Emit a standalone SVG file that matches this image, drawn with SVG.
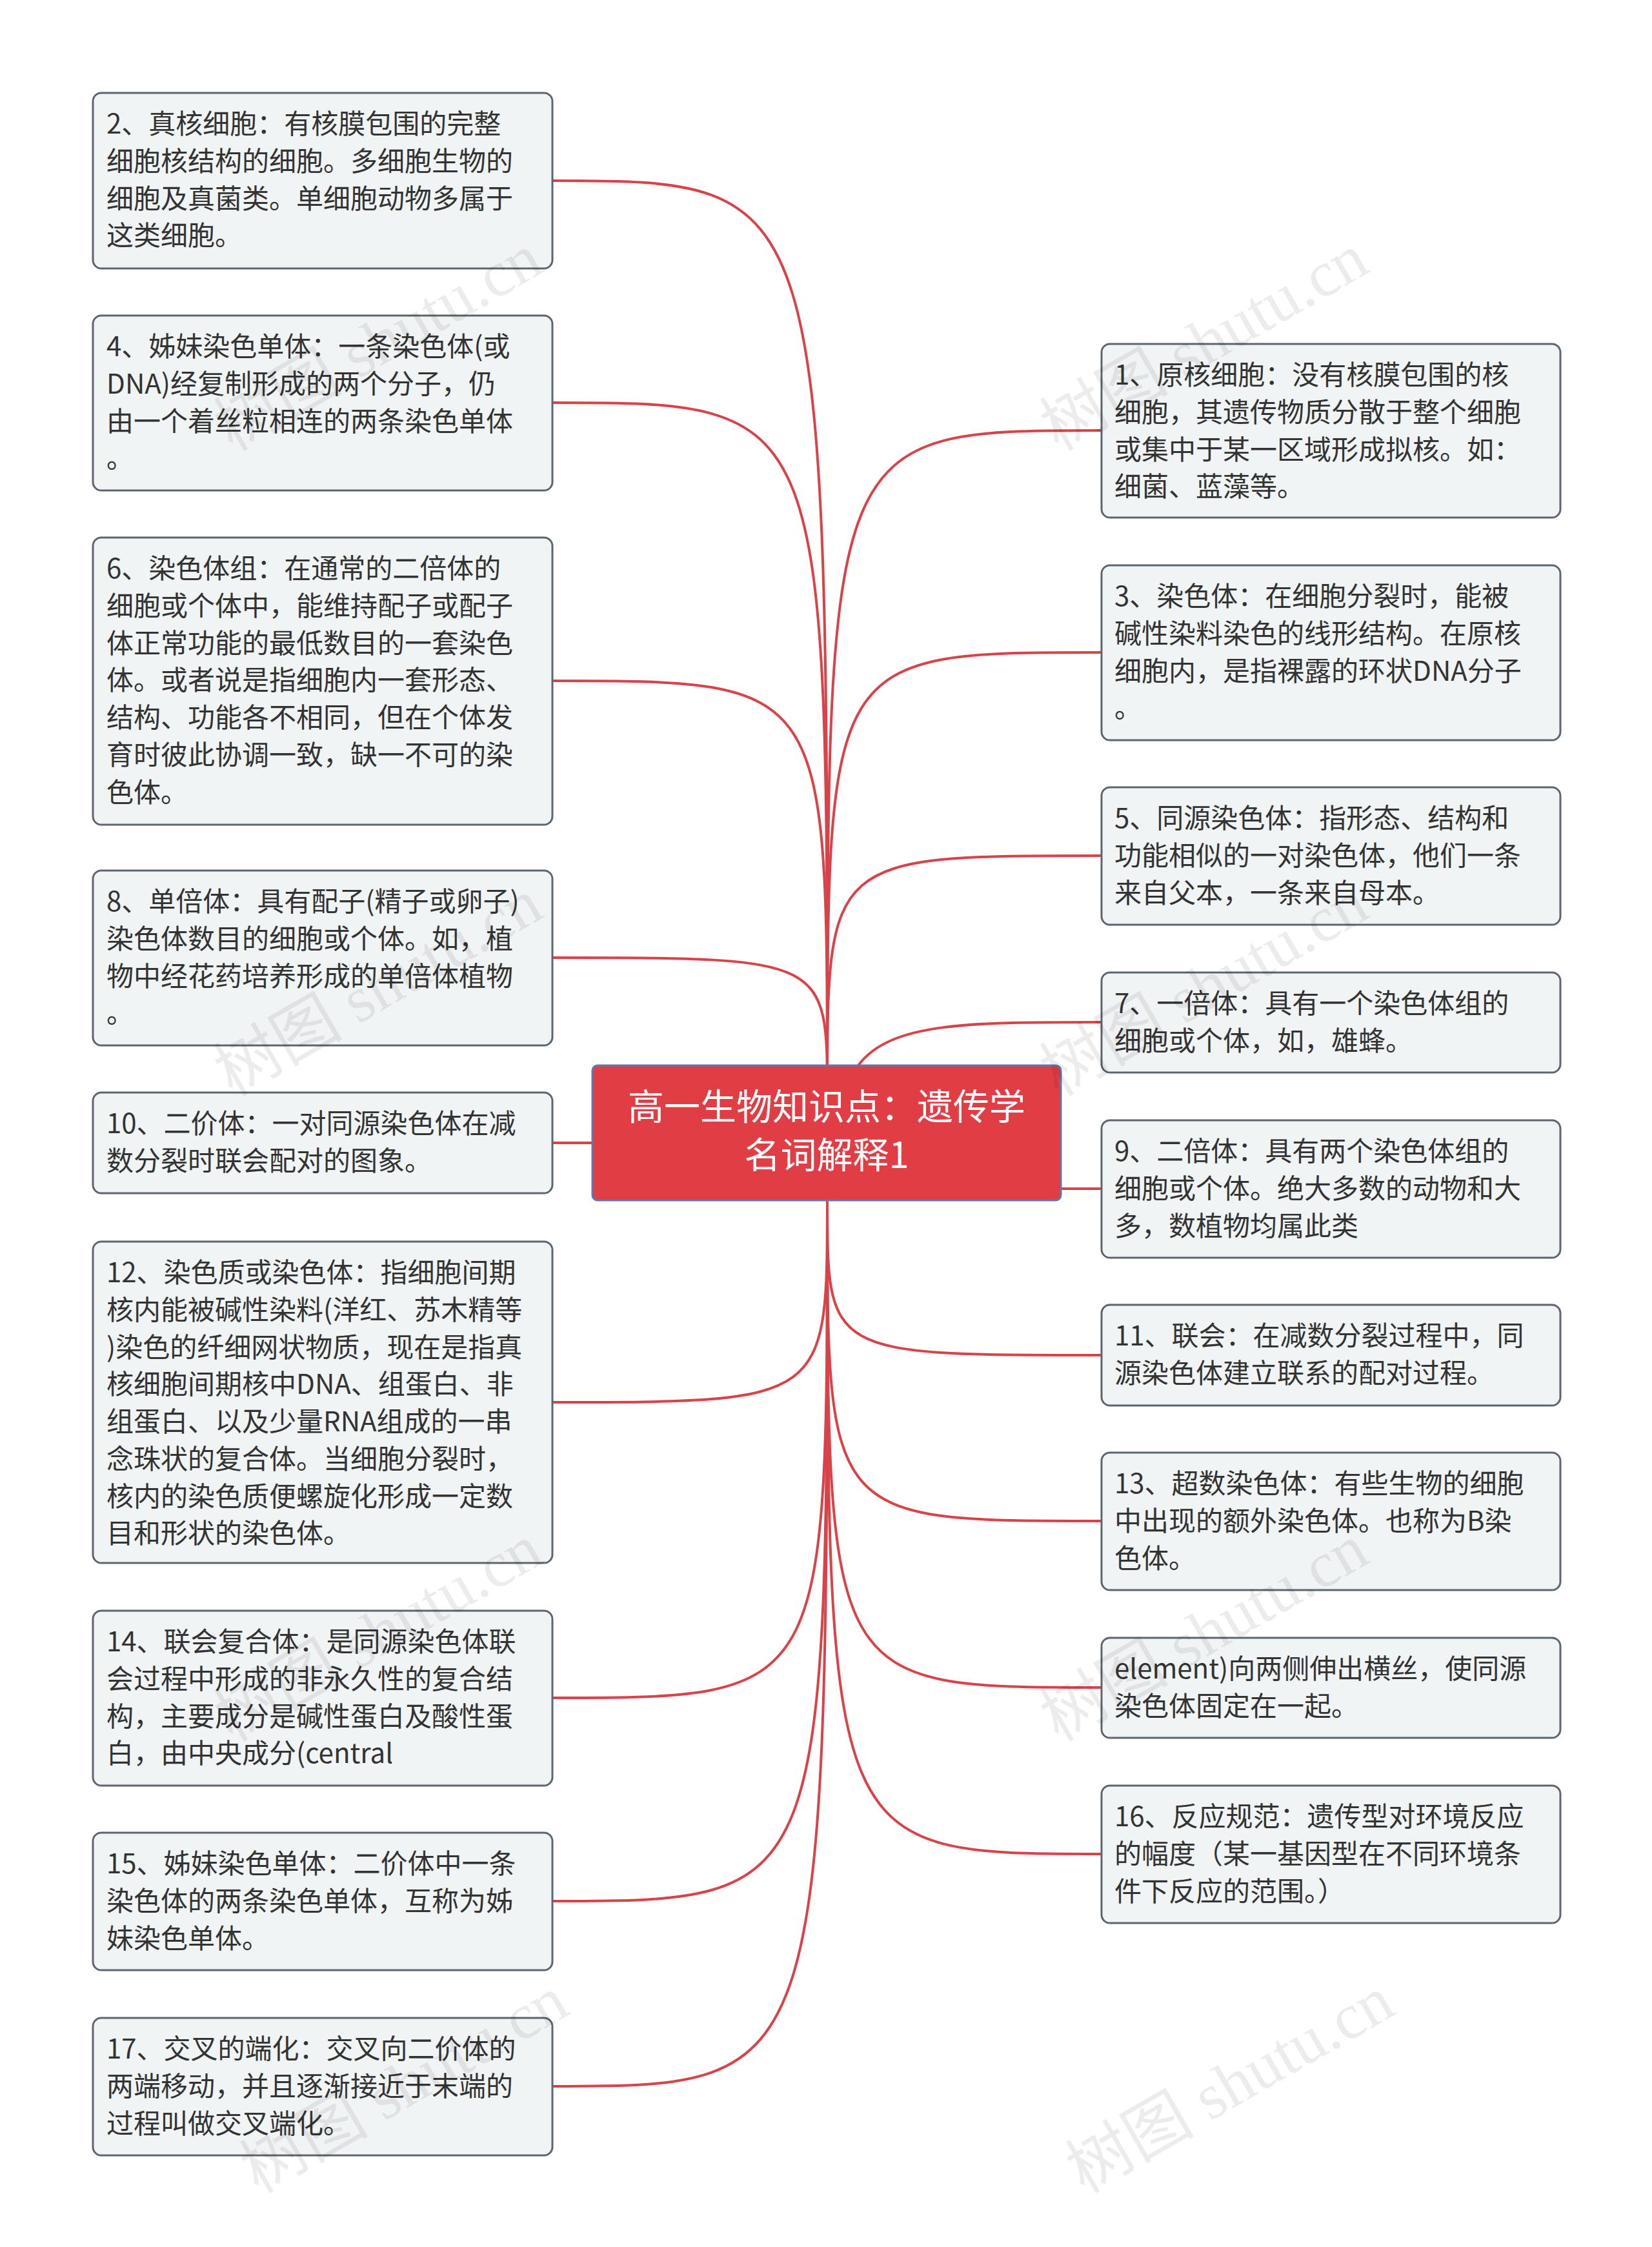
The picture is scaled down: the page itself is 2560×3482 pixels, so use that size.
<svg xmlns="http://www.w3.org/2000/svg" width="2560" height="3482" viewBox="0 0 2560 3482">
<style>
.n{fill:#f1f4f5;stroke:#5d6670;stroke-width:3}
.t{font-family:"Noto Sans CJK SC","Liberation Sans",sans-serif;font-size:42px;fill:#333}
.c{fill:none;stroke:#d8434a;stroke-width:4}
.w{font-family:"Liberation Serif","Noto Sans CJK SC",serif;font-size:100px;fill:#000;opacity:0.07}
</style>
<rect width="2560" height="3482" fill="#fff"/>
<g id="connectors">
<path class="c" d="M1282 1700 C1282 280,1282 280,856 280"/>
<path class="c" d="M1282 1700 C1282 624,1282 624,856 624"/>
<path class="c" d="M1282 1700 C1282 1055,1282 1055,856 1055"/>
<path class="c" d="M1282 1700 C1282 1484,1282 1484,856 1484"/>
<path class="c" d="M918 1771 L856 1771"/>
<path class="c" d="M1282 1860 C1282 2173,1282 2173,856 2173"/>
<path class="c" d="M1282 1860 C1282 2631,1282 2631,856 2631"/>
<path class="c" d="M1282 1860 C1282 2946,1282 2946,856 2946"/>
<path class="c" d="M1282 1860 C1282 3233,1282 3233,856 3233"/>
<path class="c" d="M1282 1700 C1282 667,1282 667,1707 667"/>
<path class="c" d="M1282 1700 C1282 1011,1282 1011,1707 1011"/>
<path class="c" d="M1282 1700 C1282 1326,1282 1326,1707 1326"/>
<path class="c" d="M1330 1651 C1380 1584,1500 1584,1707 1584"/>
<path class="c" d="M1644 1842 L1707 1842"/>
<path class="c" d="M1282 1860 C1282 2100,1282 2100,1707 2100"/>
<path class="c" d="M1282 1860 C1282 2357,1282 2357,1707 2357"/>
<path class="c" d="M1282 1860 C1282 2615,1282 2615,1707 2615"/>
<path class="c" d="M1282 1860 C1282 2873,1282 2873,1707 2873"/>
</g>
<g id="center">
<rect x="918" y="1651" width="726" height="209" rx="8" fill="#e03d45" stroke="#5a7ab0" stroke-width="3"/>
<text x="1281" y="1735" text-anchor="middle" font-family="Noto Sans CJK SC,sans-serif" font-size="56" fill="#fff">高一生物知识点：遗传学</text>
<text x="1281" y="1810" text-anchor="middle" font-family="Noto Sans CJK SC,sans-serif" font-size="56" fill="#fff">名词解释1</text>
</g>
<g id="n2"><rect class="n" x="144" y="144" width="712" height="272" rx="13"/><text class="t" x="165" y="207">2、真核细胞：有核膜包围的完整</text><text class="t" x="165" y="265">细胞核结构的细胞。多细胞生物的</text><text class="t" x="165" y="323">细胞及真菌类。单细胞动物多属于</text><text class="t" x="165" y="380">这类细胞。</text></g>
<g id="n4"><rect class="n" x="144" y="489" width="712" height="271" rx="13"/><text class="t" x="165" y="552">4、姊妹染色单体：一条染色体(或</text><text class="t" x="165" y="610">DNA)经复制形成的两个分子，仍</text><text class="t" x="165" y="668">由一个着丝粒相连的两条染色单体</text><text class="t" x="165" y="725">。</text></g>
<g id="n6"><rect class="n" x="144" y="833" width="712" height="445" rx="13"/><text class="t" x="165" y="896">6、染色体组：在通常的二倍体的</text><text class="t" x="165" y="954">细胞或个体中，能维持配子或配子</text><text class="t" x="165" y="1012">体正常功能的最低数目的一套染色</text><text class="t" x="165" y="1069">体。或者说是指细胞内一套形态、</text><text class="t" x="165" y="1127">结构、功能各不相同，但在个体发</text><text class="t" x="165" y="1185">育时彼此协调一致，缺一不可的染</text><text class="t" x="165" y="1243">色体。</text></g>
<g id="n8"><rect class="n" x="144" y="1349" width="712" height="271" rx="13"/><text class="t" x="165" y="1412">8、单倍体：具有配子(精子或卵子)</text><text class="t" x="165" y="1470">染色体数目的细胞或个体。如，植</text><text class="t" x="165" y="1528">物中经花药培养形成的单倍体植物</text><text class="t" x="165" y="1585">。</text></g>
<g id="n10"><rect class="n" x="144" y="1693" width="712" height="156" rx="13"/><text class="t" x="165" y="1756">10、二价体：一对同源染色体在减</text><text class="t" x="165" y="1814">数分裂时联会配对的图象。</text></g>
<g id="n12"><rect class="n" x="144" y="1924" width="712" height="498" rx="13"/><text class="t" x="165" y="1987">12、染色质或染色体：指细胞间期</text><text class="t" x="165" y="2045">核内能被碱性染料(洋红、苏木精等</text><text class="t" x="165" y="2103">)染色的纤细网状物质，现在是指真</text><text class="t" x="165" y="2160">核细胞间期核中DNA、组蛋白、非</text><text class="t" x="165" y="2218">组蛋白、以及少量RNA组成的一串</text><text class="t" x="165" y="2276">念珠状的复合体。当细胞分裂时，</text><text class="t" x="165" y="2334">核内的染色质便螺旋化形成一定数</text><text class="t" x="165" y="2391">目和形状的染色体。</text></g>
<g id="n14"><rect class="n" x="144" y="2496" width="712" height="271" rx="13"/><text class="t" x="165" y="2559">14、联会复合体：是同源染色体联</text><text class="t" x="165" y="2617">会过程中形成的非永久性的复合结</text><text class="t" x="165" y="2675">构，主要成分是碱性蛋白及酸性蛋</text><text class="t" x="165" y="2732">白，由中央成分(central</text></g>
<g id="n15"><rect class="n" x="144" y="2840" width="712" height="213" rx="13"/><text class="t" x="165" y="2903">15、姊妹染色单体：二价体中一条</text><text class="t" x="165" y="2961">染色体的两条染色单体，互称为姊</text><text class="t" x="165" y="3019">妹染色单体。</text></g>
<g id="n17"><rect class="n" x="144" y="3127" width="712" height="213" rx="13"/><text class="t" x="165" y="3190">17、交叉的端化：交叉向二价体的</text><text class="t" x="165" y="3248">两端移动，并且逐渐接近于末端的</text><text class="t" x="165" y="3306">过程叫做交叉端化。</text></g>
<g id="n1"><rect class="n" x="1707" y="533" width="711" height="269" rx="13"/><text class="t" x="1727" y="596">1、原核细胞：没有核膜包围的核</text><text class="t" x="1727" y="654">细胞，其遗传物质分散于整个细胞</text><text class="t" x="1727" y="712">或集中于某一区域形成拟核。如：</text><text class="t" x="1727" y="769">细菌、蓝藻等。</text></g>
<g id="n3"><rect class="n" x="1707" y="876" width="711" height="271" rx="13"/><text class="t" x="1727" y="939">3、染色体：在细胞分裂时，能被</text><text class="t" x="1727" y="997">碱性染料染色的线形结构。在原核</text><text class="t" x="1727" y="1055">细胞内，是指裸露的环状DNA分子</text><text class="t" x="1727" y="1112">。</text></g>
<g id="n5"><rect class="n" x="1707" y="1220" width="711" height="213" rx="13"/><text class="t" x="1727" y="1283">5、同源染色体：指形态、结构和</text><text class="t" x="1727" y="1341">功能相似的一对染色体，他们一条</text><text class="t" x="1727" y="1399">来自父本，一条来自母本。</text></g>
<g id="n7"><rect class="n" x="1707" y="1507" width="711" height="155" rx="13"/><text class="t" x="1727" y="1570">7、一倍体：具有一个染色体组的</text><text class="t" x="1727" y="1628">细胞或个体，如，雄蜂。</text></g>
<g id="n9"><rect class="n" x="1707" y="1736" width="711" height="213" rx="13"/><text class="t" x="1727" y="1799">9、二倍体：具有两个染色体组的</text><text class="t" x="1727" y="1857">细胞或个体。绝大多数的动物和大</text><text class="t" x="1727" y="1915">多，数植物均属此类</text></g>
<g id="n11"><rect class="n" x="1707" y="2022" width="711" height="156" rx="13"/><text class="t" x="1727" y="2085">11、联会：在减数分裂过程中，同</text><text class="t" x="1727" y="2143">源染色体建立联系的配对过程。</text></g>
<g id="n13"><rect class="n" x="1707" y="2251" width="711" height="213" rx="13"/><text class="t" x="1727" y="2314">13、超数染色体：有些生物的细胞</text><text class="t" x="1727" y="2372">中出现的额外染色体。也称为B染</text><text class="t" x="1727" y="2430">色体。</text></g>
<g id="n14b"><rect class="n" x="1707" y="2538" width="711" height="155" rx="13"/><text class="t" x="1727" y="2601">element)向两侧伸出横丝，使同源</text><text class="t" x="1727" y="2659">染色体固定在一起。</text></g>
<g id="n16"><rect class="n" x="1707" y="2767" width="711" height="213" rx="13"/><text class="t" x="1727" y="2830">16、反应规范：遗传型对环境反应</text><text class="t" x="1727" y="2888">的幅度（某一基因型在不同环境条</text><text class="t" x="1727" y="2946">件下反应的范围。）</text></g>
<g id="watermarks">
<text class="w" transform="translate(360,700) rotate(-30)">树图 shutu.cn</text>
<text class="w" transform="translate(1640,700) rotate(-30)">树图 shutu.cn</text>
<text class="w" transform="translate(360,1700) rotate(-30)">树图 shutu.cn</text>
<text class="w" transform="translate(1640,1700) rotate(-30)">树图 shutu.cn</text>
<text class="w" transform="translate(360,2700) rotate(-30)">树图 shutu.cn</text>
<text class="w" transform="translate(1640,2700) rotate(-30)">树图 shutu.cn</text>
<text class="w" transform="translate(400,3400) rotate(-30)">树图 shutu.cn</text>
<text class="w" transform="translate(1680,3400) rotate(-30)">树图 shutu.cn</text>
</g>
</svg>
